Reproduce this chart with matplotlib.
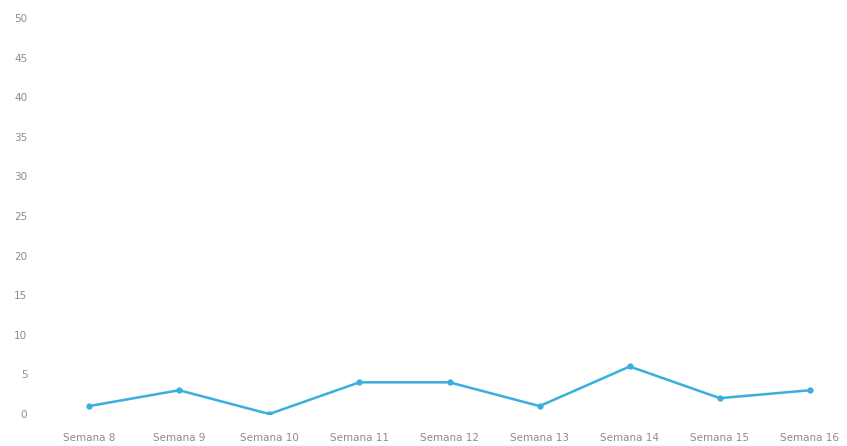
import matplotlib.pyplot as plt

semanas = ["Semana 8", "Semana 9", "Semana 10", "Semana 11", "Semana 12",
           "Semana 13", "Semana 14", "Semana 15", "Semana 16"]
valores = [1, 3, 0, 4, 4, 1, 6, 2, 3]
y_ticks = list(range(0, 51, 5))

fig = plt.figure(figsize=(8.47, 4.46), dpi=100)
ax = fig.add_axes([44 / 847, 1 - 414 / 446, (855 - 44) / 847, (414 - 18) / 446])

x = range(len(semanas))
ax.plot(x, valores, color="#3aaedc", lw=1.8, marker="o", markersize=3.5)

ax.set_xlim(-0.5, len(semanas) - 0.5)
ax.set_ylim(0, 50)
ax.set_yticks(y_ticks)
ax.set_xticks(list(x))
ax.set_xticklabels(semanas)
for s in ax.spines.values():
    s.set_visible(False)
ax.tick_params(length=0, labelsize=7.5, labelcolor="#8c8c8c")
ax.tick_params(axis="y", pad=12)
ax.tick_params(axis="x", pad=14)

fig.savefig("out.png", dpi=100)
